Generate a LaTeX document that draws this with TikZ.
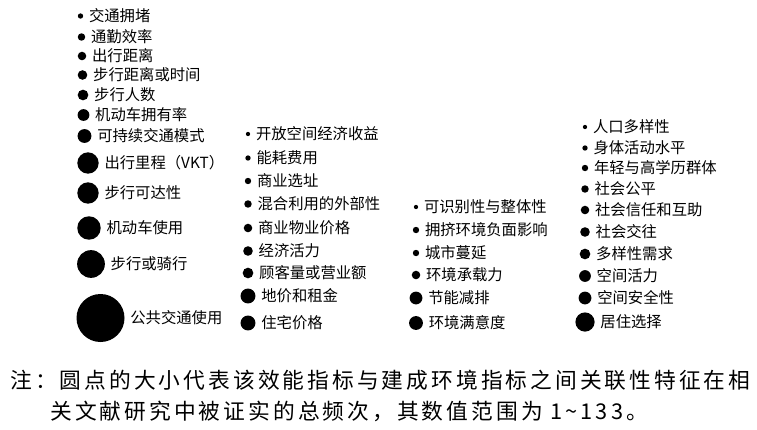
\documentclass[tikz,border=0pt]{standalone}
\usepackage{fontspec}
\newfontfamily\cjk{Noto Sans CJK SC}
\newfontfamily\cjknote[LetterSpace=14]{Noto Sans CJK SC}
\usetikzlibrary{positioning}
\begin{document}
\begin{tikzpicture}[x=0.75pt, y=-0.75pt,
    every node/.style = {font=\cjk\fontsize{11.5pt}{13pt}\selectfont},
    freqdot/.style = {circle, fill=black, inner sep=0pt, minimum size=0.8*#1 pt},
    itemtext/.style = {anchor=west, inner sep=0pt},
    notetext/.style = {anchor=west, inner sep=0pt, font=\cjknote\fontsize{16.3pt}{18pt}\selectfont}
]
    \useasboundingbox (0,0) rectangle (757,429);
    % column 1
    \foreach \y/\d/\t [count=\i] in {16/5/交通拥堵, 37/7/通勤效率, 56/8/出行距离, 75/9/步行距离或时间,
        95/10/步行人数, 115/11/机动车拥有率, 136/13/可持续交通模式, 163/20/出行里程（VKT）,
        193/20/步行可达性, 228/22/机动车使用, 264/26/步行或骑行, 318/45/公共交通使用} {
        \node (ca\i) [freqdot=\d] at (80+\d/2-2, \y) {};
        \node (la\i) [itemtext, right=4pt of ca\i] {\t};
    }
    % column 2
    \foreach \y/\d/\t [count=\i] in {134/4/开放空间经济收益, 158/5/能耗费用, 181/6/商业选址,
        204/7/混合利用的外部性, 228/8/商业物业价格, 251/9/经济活力, 273/10/顾客量或营业额,
        296/14/地价和租金, 323/14/住宅价格} {
        \node (cb\i) [freqdot=\d] at (248, \y) {};
        \node (lb\i) [itemtext, right=4pt of cb\i] {\t};
    }
    % column 3
    \foreach \y/\d/\t [count=\i] in {207/4/可识别性与整体性, 230/6/拥挤环境负面影响, 253/6/城市蔓延,
        275/8/环境承载力, 298/12/节能减排, 323/13/环境满意度} {
        \node (cc\i) [freqdot=\d] at (416, \y) {};
        \node (lc\i) [itemtext, right=4pt of cc\i] {\t};
    }
    % column 4
    \foreach \y/\d/\t [count=\i] in {127/4/人口多样性, 148/5/身体活动水平, 168/6/年轻与高学历群体,
        189/7/社会公平, 210/8/社会信任和互助, 232/9/社会交往, 254/10/多样性需求,
        276/11/空间活力, 298/12/空间安全性, 322/18/居住选择} {
        \node (cd\i) [freqdot=\d] at (585, \y) {};
        \node (ld\i) [itemtext, right=4pt of cd\i] {\t};
    }
    % note
    \node (note1) [notetext] at (10, 380) {注：圆点的大小代表该效能指标与建成环境指标之间关联性特征在相};
    \node (note2) [notetext] at (50, 411) {关文献研究中被证实的总频次，其数值范围为 1\textasciitilde133。};
\end{tikzpicture}
\end{document}
